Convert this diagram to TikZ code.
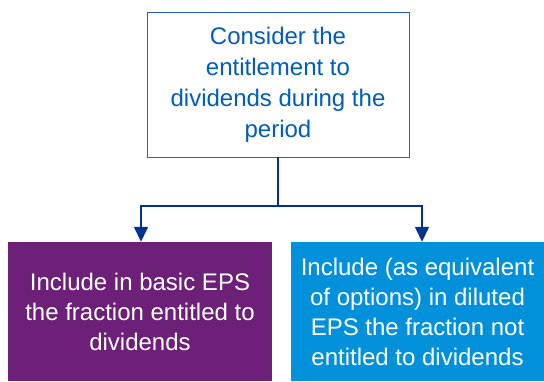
\documentclass[tikz,border=0pt]{standalone}
\usepackage{fontspec}
\setmainfont{Liberation Sans}
\usepackage{tikz}
\usetikzlibrary{arrows.meta, positioning}
\usepackage{xcolor}
\definecolor{KB}{RGB}{0,51,141}
\definecolor{MB}{RGB}{0,94,184}
\definecolor{BL}{RGB}{30,100,185}
\definecolor{PU}{RGB}{109,32,119}
\definecolor{LB}{RGB}{0,145,218}

\begin{document}
\begin{tikzpicture}[x=1pt, y=1pt,
  topbox/.style={draw=BL, line width=0.9pt, fill=white,
                 minimum width=262pt, minimum height=145pt,
                 align=center, text=MB, font=\fontsize{24}{31}\selectfont},
  leafbox/.style={minimum width=#1, minimum height=139pt,
                  align=center, text=white, font=\fontsize{24}{30}\selectfont},
  link/.style={draw=KB, line width=1.5pt},
  tip/.style={link, -{Triangle[width=14pt, length=15pt]}}
]
\useasboundingbox (0,0) rectangle (544,381);
\node[topbox] (consider) at (278,296.5) {Consider the\\entitlement to\\dividends during the\\period};
\node[leafbox=264pt, fill=PU] (basic) at (140,69.5) {Include in basic EPS\\the fraction entitled to\\dividends};
\node[leafbox=253pt, fill=LB] (diluted) at (417.5,69.5) {Include (as equivalent\\of options) in diluted\\EPS the fraction not\\entitled to dividends};

\coordinate (split) at (278,175);
\draw[link] (consider.south) -- (split);
\draw[tip] (split) -| ([xshift=1pt]basic.north);
\draw[tip] (split) -| ([xshift=4.5pt]diluted.north);
\end{tikzpicture}
\end{document}
